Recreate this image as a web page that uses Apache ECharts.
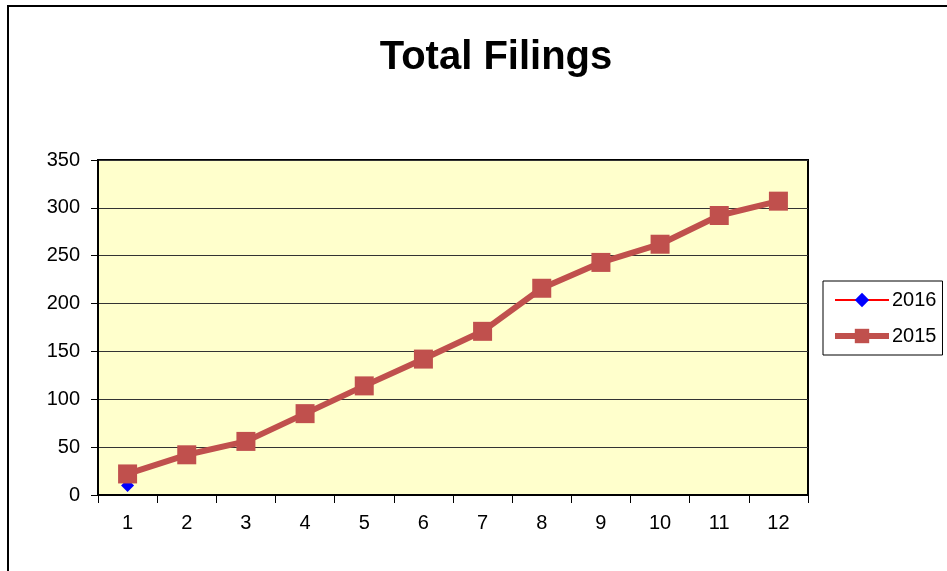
<!DOCTYPE html>
<html>
<head>
<meta charset="utf-8">
<title>Total Filings</title>
<script src="https://cdn.jsdelivr.net/npm/echarts@6/dist/echarts.min.js"></script>
<style>
  html, body { margin: 0; padding: 0; background: #fff; }
  #chart { width: 947px; height: 571px; }
</style>
</head>
<body>
<div id="chart"></div>
<script>
const months = ["1", "2", "3", "4", "5", "6", "7", "8", "9", "10", "11", "12"];
const filings2016 = [10, null, null, null, null, null, null, null, null, null, null, null];
const filings2015 = [22, 42, 56, 85, 114, 142, 171, 216, 243, 262, 292, 307];
const yTicks = [0, 50, 100, 150, 200, 250, 300, 350];

const myChart = echarts.init(document.getElementById("chart"));
myChart.setOption({
  animation: false,
  textStyle: { fontFamily: "Liberation Sans, Arial, sans-serif", color: "#000" },
  graphic: [
    {
      type: "rect",
      shape: { x: 8, y: 6, width: 1000, height: 1000 },
      style: { fill: "none", stroke: "#000", lineWidth: 2 }
    }
  ],
  title: {
    text: "Total Filings",
    left: 491,
    textAlign: "center",
    top: 33,
    textStyle: { fontSize: 40, fontWeight: "bold", color: "#000" }
  },
  legend: {
    orient: "vertical",
    left: 823,
    top: 281,
    width: 123,
    padding: [9, 6, 9, 9],
    itemGap: 16,
    itemWidth: 54,
    itemHeight: 18,
    borderColor: "#000",
    borderWidth: 1,
    textStyle: { fontSize: 20, color: "#000", padding: [0, 0, 0, -2] },
    data: [
      { name: "2016", lineStyle: { width: 2 } },
      { name: "2015", lineStyle: { width: 6 } }
    ]
  },
  grid: {
    left: 98,
    top: 160,
    right: 139,
    bottom: 76,
    show: true,
    backgroundColor: "#FFFFCC",
    borderColor: "#000",
    borderWidth: 2
  },
  xAxis: {
    type: "category",
    boundaryGap: true,
    data: months,
    axisLine: { lineStyle: { color: "#000", width: 2 } },
    axisTick: { show: true, length: 8, inside: false, lineStyle: { color: "#000" } },
    axisLabel: { fontSize: 20, color: "#000", margin: 18 }
  },
  yAxis: {
    type: "value",
    min: yTicks[0],
    max: yTicks[yTicks.length - 1],
    interval: 50,
    axisLine: { show: true, lineStyle: { color: "#000", width: 2 } },
    axisTick: { show: true, length: 7, lineStyle: { color: "#000" } },
    axisLabel: { fontSize: 20, color: "#000", margin: 18 },
    splitLine: { lineStyle: { color: "#333", width: 1 } }
  },
  series: [
    {
      name: "2016",
      type: "line",
      data: filings2016,
      symbol: "diamond",
      symbolSize: 13,
      itemStyle: { color: "#0000FF" },
      lineStyle: { color: "#FF0000", width: 2 }
    },
    {
      name: "2015",
      type: "line",
      data: filings2015,
      symbol: "rect",
      symbolSize: 19,
      itemStyle: { color: "#C0504D" },
      lineStyle: { color: "#C0504D", width: 6 }
    }
  ]
});
</script>
</body>
</html>
